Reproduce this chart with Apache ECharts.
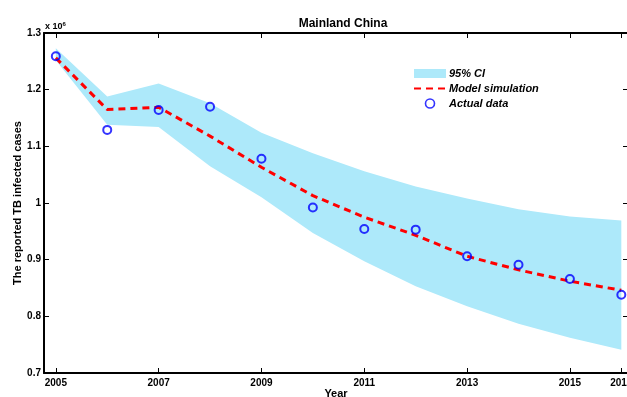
<!DOCTYPE html>
<html>
<head>
<meta charset="utf-8">
<script src="https://cdn.jsdelivr.net/npm/echarts@6/dist/echarts.min.js"></script>
<style>
html,body{margin:0;padding:0;background:#fff;}
#chart{width:627px;height:397px;}
</style>
</head>
<body>
<div id="chart"></div>
<script>
const years = [2005, 2006, 2007, 2008, 2009, 2010, 2011, 2012, 2013, 2014, 2015, 2016];
const actualData = [1.259, 1.129, 1.164, 1.170, 1.078, 0.992, 0.954, 0.953, 0.906, 0.891, 0.866, 0.838];
const modelSim = [1.256, 1.165, 1.169, 1.118, 1.063, 1.013, 0.975, 0.943, 0.906, 0.882, 0.862, 0.846];
const ciUpper = [1.273, 1.188, 1.211, 1.176, 1.124, 1.088, 1.056, 1.029, 1.008, 0.989, 0.976, 0.969];
const ciLower = [1.252, 1.138, 1.134, 1.065, 1.010, 0.947, 0.897, 0.853, 0.818, 0.787, 0.762, 0.741];
const xTickValues = [2005, 2007, 2009, 2011, 2013, 2015, 2016];

const FONT = '"Liberation Sans", Arial, sans-serif';
const BAND = '#ade9fa';
const chart = echarts.init(document.getElementById('chart'));

const bandPts = years.map((y, i) => [y, ciLower[i], ciUpper[i]]);
const modelPts = years.map((y, i) => [y, modelSim[i]]);
const actualPts = years.map((y, i) => [y, actualData[i]]);

const axisLineStyle = {color: '#000', width: 2};
const xMin = 2004.77, xMax = 2016.13;

function renderBand(params, api) {
  if (params.dataIndex !== 0) return null;
  const pts = [];
  for (let i = 0; i < years.length; i++) pts.push(api.coord([years[i], ciUpper[i]]));
  for (let i = years.length - 1; i >= 0; i--) pts.push(api.coord([years[i], ciLower[i]]));
  return {type: 'polygon', shape: {points: pts}, style: {fill: BAND, stroke: null}};
}

chart.setOption({
  animation: false,
  backgroundColor: '#fff',
  title: {
    text: 'Mainland China',
    left: 338, top: 13, textAlign: 'center',
    textStyle: {fontFamily: FONT, fontSize: 12, fontWeight: 'bold', color: '#000'}
  },
  graphic: [{
    type: 'text', left: 45, top: 21,
    style: {
      text: 'x 10{sup|6}',
      font: 'bold 9px ' + FONT, fill: '#000',
      rich: {sup: {fontSize: 6, fontWeight: 'bold', fontFamily: FONT, verticalAlign: 'top', padding: [0, 0, 6, 0]}}
    }
  }],
  legend: {
    data: [
      {name: '95% CI', icon: 'rect', itemStyle: {color: BAND, borderWidth: 0}},
      {name: 'Model simulation', icon: 'inherit', itemStyle: {opacity: 0, color: 'rgba(0,0,0,0)'}},
      {name: 'Actual data', icon: 'circle', itemStyle: {borderWidth: 1.6}}
    ],
    orient: 'vertical',
    left: 413, top: 66,
    padding: 0,
    itemWidth: 32, itemHeight: 9, itemGap: 0,
    textStyle: {fontFamily: FONT, fontSize: 11, fontWeight: 'bold', fontStyle: 'italic', color: '#000', lineHeight: 15, padding: [0, 0, 0, -2]}
  },
  grid: {left: 44, top: 33, right: -1, bottom: 24, outerBoundsMode: 'none', containLabel: false},
  xAxis: [{
    type: 'value', min: xMin, max: xMax, position: 'bottom',
    name: 'Year', nameLocation: 'middle', nameGap: 15, nameMoveOverlap: false,
    nameTextStyle: {fontFamily: FONT, fontSize: 11, fontWeight: 'bold', color: '#000'},
    axisLine: {show: true, lineStyle: axisLineStyle},
    axisTick: {show: true, inside: true, length: 5, customValues: xTickValues, lineStyle: {color: '#000', width: 1}},
    axisLabel: {customValues: xTickValues, margin: 5, fontFamily: FONT, fontSize: 10, fontWeight: 'bold', color: '#000', formatter: v => String(v)},
    splitLine: {show: false}
  }, {
    type: 'value', min: xMin, max: xMax, position: 'top',
    axisLine: {show: true, lineStyle: axisLineStyle},
    axisTick: {show: true, inside: true, length: 5, customValues: xTickValues, lineStyle: {color: '#000', width: 1}},
    axisLabel: {show: false},
    splitLine: {show: false}
  }],
  yAxis: [{
    type: 'value', min: 0.7, max: 1.3, interval: 0.1, position: 'left',
    name: 'The reported TB infected cases', nameLocation: 'middle', nameGap: 21, nameMoveOverlap: false,
    nameTextStyle: {fontFamily: FONT, fontSize: 11, fontWeight: 'bold', color: '#000'},
    axisLine: {show: true, lineStyle: axisLineStyle},
    axisTick: {show: true, inside: true, length: 5, lineStyle: {color: '#000', width: 1}},
    axisLabel: {margin: 3, fontFamily: FONT, fontSize: 10, fontWeight: 'bold', color: '#000',
      formatter: v => String(parseFloat(v.toFixed(1)))},
    splitLine: {show: false}
  }, {
    type: 'value', min: 0.7, max: 1.3, interval: 0.1, position: 'right',
    axisLine: {show: true, lineStyle: axisLineStyle},
    axisTick: {show: true, inside: true, length: 5, lineStyle: {color: '#000', width: 1}},
    axisLabel: {show: false},
    splitLine: {show: false}
  }],
  series: [
    {
      name: '95% CI', type: 'custom', data: bandPts,
      encode: {x: 0, y: [1, 2]},
      renderItem: renderBand,
      itemStyle: {color: BAND}, silent: true, z: 1
    },
    {
      name: 'Model simulation', type: 'line', data: modelPts,
      symbol: 'none', itemStyle: {color: '#ff0000'},
      lineStyle: {color: '#ff0000', width: 3, type: [7, 5]}, z: 3
    },
    {
      name: 'Actual data', type: 'scatter', data: actualPts,
      symbol: 'circle', symbolSize: 8,
      itemStyle: {color: 'rgba(255,255,255,0)', borderColor: '#0000ff', borderWidth: 2}, z: 4
    }
  ]
});
</script>
</body>
</html>
